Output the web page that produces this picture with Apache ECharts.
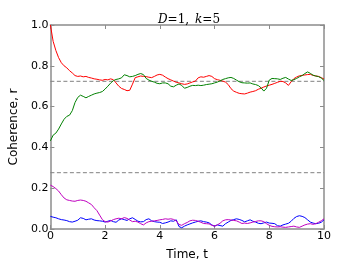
<!DOCTYPE html>
<html><head><meta charset="utf-8">
<script src="https://cdn.jsdelivr.net/npm/echarts@6/dist/echarts.min.js"></script>
<style>html,body{margin:0;padding:0;background:#fff}#c{width:360px;height:266px}</style>
</head><body><div id="c"></div>
<script>
const times = Array.from({length: 101}, (_, i) => +(i * 0.1).toFixed(1));
const xTicks = [0, 2, 4, 6, 8, 10];
const yTicks = [0.0, 0.2, 0.4, 0.6, 0.8, 1.0];
const dashLevels = [0.724, 0.276];
const redVals = [1.0,0.92,0.875,0.84,0.815,0.80,0.79,0.776,0.765,0.752,0.748,0.750,0.746,0.748,0.743,0.740,0.736,0.734,0.731,0.729,0.733,0.731,0.736,0.732,0.716,0.700,0.689,0.684,0.678,0.680,0.710,0.742,0.746,0.750,0.748,0.747,0.744,0.742,0.748,0.755,0.758,0.754,0.745,0.737,0.731,0.725,0.719,0.716,0.712,0.709,0.711,0.716,0.721,0.725,0.741,0.746,0.744,0.748,0.752,0.748,0.737,0.732,0.729,0.725,0.720,0.708,0.688,0.676,0.670,0.665,0.663,0.662,0.666,0.671,0.674,0.678,0.685,0.690,0.696,0.701,0.705,0.709,0.714,0.719,0.724,0.723,0.716,0.704,0.722,0.737,0.745,0.751,0.753,0.755,0.757,0.758,0.753,0.750,0.748,0.742,0.735];
const greenVals = [0.432,0.46,0.47,0.49,0.515,0.538,0.552,0.558,0.58,0.62,0.645,0.656,0.650,0.643,0.650,0.656,0.662,0.666,0.669,0.674,0.686,0.700,0.715,0.727,0.733,0.736,0.741,0.756,0.752,0.746,0.748,0.752,0.758,0.762,0.757,0.738,0.730,0.724,0.720,0.714,0.712,0.716,0.716,0.712,0.700,0.697,0.705,0.711,0.704,0.690,0.694,0.700,0.704,0.703,0.705,0.703,0.705,0.708,0.710,0.712,0.716,0.720,0.726,0.733,0.737,0.741,0.743,0.738,0.730,0.722,0.717,0.716,0.715,0.716,0.711,0.708,0.703,0.692,0.676,0.690,0.730,0.738,0.737,0.736,0.733,0.739,0.743,0.735,0.728,0.732,0.738,0.746,0.752,0.762,0.770,0.763,0.754,0.750,0.747,0.740,0.728];
const blueVals = [0.062,0.058,0.055,0.05,0.046,0.044,0.041,0.036,0.034,0.038,0.043,0.055,0.052,0.045,0.048,0.05,0.044,0.041,0.04,0.038,0.034,0.038,0.042,0.036,0.033,0.044,0.05,0.046,0.042,0.05,0.055,0.047,0.038,0.035,0.036,0.046,0.05,0.04,0.036,0.034,0.033,0.027,0.03,0.034,0.04,0.038,0.045,0.012,0.006,0.014,0.02,0.025,0.03,0.034,0.038,0.04,0.036,0.034,0.03,0.02,0.014,0.02,0.017,0.014,0.026,0.034,0.042,0.046,0.05,0.047,0.042,0.035,0.04,0.045,0.038,0.034,0.028,0.026,0.03,0.034,0.029,0.028,0.026,0.016,0.014,0.02,0.024,0.028,0.038,0.052,0.061,0.065,0.062,0.056,0.045,0.034,0.029,0.026,0.028,0.033,0.045];
const magentaVals = [0.215,0.208,0.198,0.186,0.168,0.152,0.143,0.14,0.137,0.136,0.14,0.142,0.14,0.136,0.128,0.12,0.104,0.09,0.068,0.046,0.036,0.034,0.039,0.046,0.05,0.053,0.05,0.056,0.052,0.044,0.036,0.038,0.034,0.026,0.02,0.03,0.036,0.038,0.04,0.042,0.045,0.047,0.05,0.048,0.05,0.047,0.04,0.022,0.018,0.026,0.032,0.04,0.043,0.042,0.038,0.033,0.027,0.026,0.025,0.018,0.014,0.02,0.028,0.04,0.045,0.046,0.044,0.042,0.04,0.034,0.027,0.029,0.027,0.03,0.034,0.037,0.04,0.04,0.036,0.026,0.018,0.013,0.011,0.01,0.011,0.009,0.008,0.01,0.012,0.014,0.01,0.008,0.014,0.02,0.024,0.026,0.023,0.026,0.033,0.04,0.05];

const pair = vals => times.map((t, i) => [t, vals[i]]);
const chart = echarts.init(document.getElementById('c'), null, {renderer: 'canvas'});
const spine = '#8c8c8c';
const sans = 'DejaVu Sans';
const baseAxis = {
  splitLine: {show: false},
  axisLine: {show: true, onZero: false, lineStyle: {color: spine, width: 1.5}},
  axisTick: {show: true, inside: true, length: 4, lineStyle: {color: spine, width: 1}},
};
const series = [
  {color: '#ff0000', vals: redVals},
  {color: '#008000', vals: greenVals},
  {color: '#0000ff', vals: blueVals},
  {color: '#bf00bf', vals: magentaVals}
].map(s => ({type: 'line', data: pair(s.vals), showSymbol: false, symbol: 'none',
  lineStyle: {color: s.color, width: 1}, z: 3, animation: false}));
dashLevels.forEach(v => series.push({type: 'line', data: [[xTicks[0], v], [xTicks[xTicks.length-1], v]],
  symbol: 'none', lineStyle: {color: '#808080', width: 1, type: [4, 2.5]}, z: 2, animation: false}));

chart.setOption({
  animation: false,
  title: {
    text: '{i|D}{n|=1,\u2002}{i|k}{n|=5}',
    left: 184, top: 9, textAlign: 'center',
    textStyle: {fontWeight: 'normal', rich: {
      i: {fontFamily: 'DejaVu Serif', fontStyle: 'italic', fontWeight: 'normal', fontSize: 12, color: '#000'},
      n: {fontFamily: 'DejaVu Serif', fontWeight: 'normal', fontSize: 12, color: '#000'}
    }}
  },
  grid: {left: 45, right: 36, top: 25, bottom: 27},
  xAxis: [
    Object.assign({}, baseAxis, {type: 'value', min: xTicks[0], max: xTicks[xTicks.length-1], interval: 2,
      position: 'bottom', name: 'Time, t', nameLocation: 'middle', nameGap: 20,
      nameTextStyle: {fontFamily: sans, fontSize: 12, color: '#000'},
      axisLabel: {margin: 2, fontFamily: sans, fontSize: 11, color: '#000'}}),
    Object.assign({}, baseAxis, {type: 'value', min: xTicks[0], max: xTicks[xTicks.length-1], interval: 2,
      position: 'top', axisLabel: {show: false}})
  ],
  yAxis: [
    Object.assign({}, baseAxis, {type: 'value', min: yTicks[0], max: yTicks[yTicks.length-1], interval: 0.2,
      position: 'left', name: 'Coherence, r', nameLocation: 'middle', nameGap: 23,
      nameTextStyle: {fontFamily: sans, fontSize: 12, color: '#000'},
      axisLabel: {margin: 2, fontFamily: sans, fontSize: 11, color: '#000', formatter: v => v.toFixed(1)}}),
    Object.assign({}, baseAxis, {type: 'value', min: yTicks[0], max: yTicks[yTicks.length-1], interval: 0.2,
      position: 'right', axisLabel: {show: false}})
  ],
  series: series
});
</script></body></html>
